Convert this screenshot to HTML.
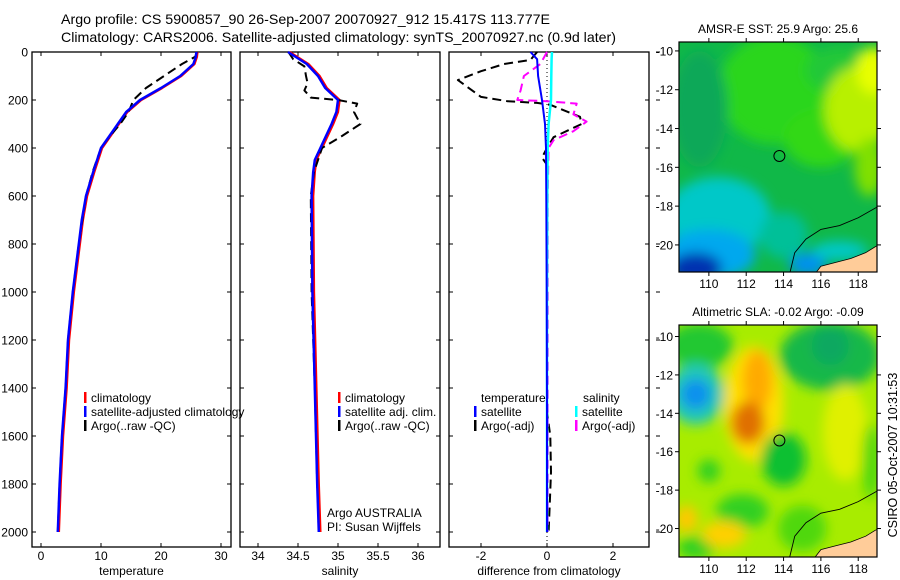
<!DOCTYPE html>
<html><head><meta charset="utf-8"><style>
html,body{margin:0;padding:0;background:#fff}
svg{display:block;font-family:"Liberation Sans",Arial,sans-serif}
</style></head><body>
<svg id="fig" width="900" height="580" viewBox="0 0 900 580" xmlns="http://www.w3.org/2000/svg">
<defs>
<filter id="blur" x="-20%" y="-20%" width="140%" height="140%"><feGaussianBlur stdDeviation="6"/></filter>
<clipPath id="clipTop"><rect x="679" y="42" width="198" height="230"/></clipPath>
<clipPath id="clipBot"><rect x="679" y="325" width="198" height="232"/></clipPath>
</defs>
<text x="61" y="24" font-size="14" textLength="489" lengthAdjust="spacingAndGlyphs">Argo profile: CS 5900857_90 26-Sep-2007 20070927_912 15.417S 113.777E</text>
<text x="61" y="42" font-size="14" textLength="555" lengthAdjust="spacingAndGlyphs">Climatology: CARS2006. Satellite-adjusted climatology: synTS_20070927.nc (0.9d later)</text>
<g id="panels"></g>
<g id="maps"></g>
<text transform="translate(897,455) rotate(-90)" font-size="12.5" text-anchor="middle">CSIRO 05-Oct-2007 10:31:53</text>
</svg>
<script>
// ---- data ----
const depthClim = [0,20,50,100,150,200,250,300,400,500,600,700,800,1000,1200,1400,1600,1800,2000];
const tempClim = [25.9,25.8,25.4,23.2,20.0,16.5,14.2,12.8,10.0,8.7,7.5,6.8,6.3,5.3,4.5,4.1,3.5,3.1,2.8];
const depthArgoT = [0,20,50,100,150,200,250,300,350,400,500,600,800,1000,1200,1400,1600,1800,2000];
const tempArgo = [26.0,25.7,23.5,20.5,17.5,15.4,14.6,13.2,11.5,10.0,8.6,7.5,6.3,5.3,4.5,4.1,3.5,3.1,2.8];
const depthSal = [0,50,100,150,200,250,300,400,450,500,600,1000,1400,1800,2000];
const salClim = [34.375,34.61,34.75,34.84,35.0,34.98,34.92,34.78,34.71,34.69,34.67,34.68,34.71,34.74,34.76];
const depthArgoS = [0,30,60,100,130,160,190,200,215,250,300,350,400,500,600,1000,1400,1800,2000];
const salArgo = [34.38,34.44,34.58,34.6,34.62,34.58,34.66,35.0,35.24,35.2,35.28,35.05,34.8,34.7,34.66,34.67,34.71,34.74,34.76];
const depthDiffSat = [0,30,100,200,300,400,600,1000,1500,2000];
const tDiffSat = [-0.5,-0.3,-0.27,-0.15,-0.06,-0.03,-0.02,-0.01,0,0];
const sDiffSat = [0.15,0.14,0.13,0.12,0.05,0.02,0.01,0.0,0.0,0.0];
const depthDiffArgoT = [0,33,50,80,117,187,205,212,220,270,300,355,400,440,470,500,1000,1500,1600,1750,1900,2000];
const tDiffArgo = [-0.3,-0.5,-1.3,-2.0,-2.7,-2.0,-1.2,-0.3,0.1,1.0,1.05,0.2,0.0,-0.15,0.0,0.0,0.0,0.0,0.1,0.12,0.08,0.05];
const depthDiffArgoS = [0,50,100,160,200,205,215,260,290,330,367,400,600,1000,2000];
const sDiffArgo = [0,-0.2,-0.7,-0.8,-0.9,0,0.9,0.8,1.2,0.8,0.2,0.05,0.02,0.02,0.02];
const depthTicks = [0,200,400,600,800,1000,1200,1400,1600,1800,2000];
const tempTicks = [0,10,20,30];
const salTicks = [34,34.5,35,35.5,36];
const diffTicks = [-2,0,2];
const lonTicks = [110,112,114,116,118];
const latTicks = [-10,-12,-14,-16,-18,-20];

const NS="http://www.w3.org/2000/svg";
function el(tag, attrs, parent, text){const e=document.createElementNS(NS,tag);for(const k in attrs)e.setAttribute(k,attrs[k]);if(text!==undefined)e.textContent=text;parent.appendChild(e);return e;}
const yD = d => 52 + d*0.24;
const P = document.getElementById('panels');

function panel(name,x0,x1,xScale,xTicks,xLabel,showDepth){
  const g=el('g',{},P);
  
  
  const r=el('rect',{x:x0,y:52,width:x1-x0,height:495,fill:'none',stroke:'#000','stroke-width':1.3},g);
  
  
  xTicks.forEach(t=>{const x=xScale(t);
    el('line',{x1:x,x2:x,y1:52,y2:56,stroke:'#000'},g);
    el('line',{x1:x,x2:x,y1:547,y2:543,stroke:'#000'},g);
    const tl=el('text',{x:x,y:560,'font-size':12,'text-anchor':'middle'},g,String(t));
    
    
  });
  depthTicks.forEach(d=>{const y=yD(d);
    el('line',{x1:x0,x2:x0+4,y1:y,y2:y,stroke:'#000'},g);
    el('line',{x1:x1,x2:x1-4,y1:y,y2:y,stroke:'#000'},g);
    if(showDepth){const tl=el('text',{x:28,y:y+4.5,'font-size':12,'text-anchor':'end'},g,String(d));
      
      }
  });
  const xl=el('text',{x:(x0+x1)/2,y:575,'font-size':12,'text-anchor':'middle'},g,xLabel);
  
  
  return g;
}
function line(g,xs,ds,xScale,color,dash,w,name){
  const pts=xs.map((v,i)=>xScale(v).toFixed(1)+','+yD(ds[i]).toFixed(1)).join(' ');
  const p=el('polyline',{points:pts,fill:'none',stroke:color,'stroke-width':w,'stroke-dasharray':dash||'none','stroke-linejoin':'round'},g);
  
  
}
function legend(g,x,y,color,label,name){
  el('rect',{x:x,y:y-10,width:2.5,height:11,fill:color},g);
  const t=el('text',{x:x+7,y:y,'font-size':12},g,label);
  
  
}
// temperature
const xT=t=>41+t*6;
let g=panel('temperature',32,231,xT,tempTicks,'temperature',true);
line(g,tempClim,depthClim,t=>xT(t)+1,'#f00','',2.5,'temp-climatology-line');
line(g,tempArgo,depthArgoT,xT,'#000','9,5',2,'temp-argo-line');
line(g,tempClim,depthClim,xT,'#00f','',2.5,'temp-satellite-line');
legend(g,84,402,'#f00','climatology','legend-climatology');
legend(g,84,416,'#00f','satellite-adjusted climatology','legend-satellite-adjusted');
legend(g,84,430,'#000','Argo(..raw -QC)','legend-argo-raw');
// salinity
const xS=s=>258+(s-34)*80;
g=panel('salinity',240,440,xS,salTicks,'salinity',false);
line(g,salClim,depthSal,s=>xS(s)+1.5,'#f00','',2.5,'sal-climatology-line');
line(g,salArgo,depthArgoS,xS,'#000','9,5',2,'sal-argo-line');
line(g,salClim,depthSal,xS,'#00f','',2.5,'sal-satellite-line');
legend(g,338,402,'#f00','climatology','legend-sal-climatology');
legend(g,338,416,'#00f','satellite adj. clim.','legend-sal-satellite');
legend(g,338,430,'#000','Argo(..raw -QC)','legend-sal-argo');
let t1=el('text',{x:327,y:517,'font-size':12},g,'Argo AUSTRALIA');


t1=el('text',{x:327,y:531,'font-size':12},g,'PI: Susan Wijffels');


// difference
const xDf=d=>547+d*33;
g=panel('difference',449,649,xDf,diffTicks,'difference from climatology',false);
el('line',{x1:547,x2:547,y1:52,y2:547,stroke:'#000','stroke-dasharray':'1,3'},g);
line(g,tDiffArgo,depthDiffArgoT,xDf,'#000','9,5',2,'diff-temp-argo-line');
line(g,sDiffArgo,depthDiffArgoS,xDf,'#f0f','9,5',2,'diff-sal-argo-line');
line(g,sDiffSat,depthDiffSat,xDf,'#0ff','',2.5,'diff-sal-satellite-line');
line(g,tDiffSat,depthDiffSat,xDf,'#00f','',2,'diff-temp-satellite-line');
t1=el('text',{x:481,y:402,'font-size':12},g,'temperature');


t1=el('text',{x:583,y:402,'font-size':12},g,'salinity');


legend(g,474,416,'#00f','satellite','legend-diff-temp-satellite');
legend(g,474,430,'#000','Argo(-adj)','legend-diff-temp-argo');
legend(g,575,416,'#0ff','satellite','legend-diff-sal-satellite');
legend(g,575,430,'#f0f','Argo(-adj)','legend-diff-sal-argo');
depthTicks.forEach(d=>el('line',{x1:656,x2:660,y1:yD(d),y2:yD(d),stroke:'#000'},g));

// ---- maps ----
const M=document.getElementById('maps');
const lonX=l=>679+(l-108.4)*18.67;
function makeMap(name,top,latTop,pxPerDeg,clip,base,blobs,title){
  const latY=l=>top+(latTop-l)*pxPerDeg;
  const mg=el('g',{},M);
  
  
  const c=el('g',{'clip-path':'url(#'+clip+')'},mg);
  el('rect',{x:679,y:top,width:198,height:240,fill:base},c);
  const bg=el('g',{filter:'url(#blur)'},c);
  blobs.forEach(b=>el('ellipse',{cx:lonX(b[0]),cy:latY(b[1]),rx:b[2]*18.67,ry:b[3]*pxPerDeg,fill:b[4]},bg));
  const land=[[115.6,-21.6],[116,-21.1],[116.8,-20.9],[117.6,-20.7],[118.4,-20.4],[118.9,-20.1],[119.1,-20.0],[119.1,-21.6]];
  const lp=el('polygon',{points:land.map(p=>lonX(p[0])+','+latY(p[1])).join(' '),fill:'#ffcc99',stroke:'#000','stroke-width':0.8},c);
  
  
  const coast=[[114.3,-21.6],[114.6,-20.4],[115.2,-19.7],[116,-19.2],[117,-19.0],[118,-18.6],[119.1,-18.0]];
  el('polyline',{points:coast.map(p=>lonX(p[0])+','+latY(p[1])).join(' '),fill:'none',stroke:'#000','stroke-width':0.9},c);
  const mk=el('circle',{cx:lonX(113.777),cy:latY(-15.417),r:5.5,fill:'none',stroke:'#000','stroke-width':1},mg);
  
  
  const h=(clip==='clipTop')?230:232;
  el('rect',{x:679,y:top,width:198,height:h,fill:'none',stroke:'#000','stroke-width':1.2},mg);
  lonTicks.forEach(l=>{const x=lonX(l);
    el('line',{x1:x,x2:x,y1:top-4,y2:top,stroke:'#000'},mg);
    el('line',{x1:x,x2:x,y1:top+h,y2:top+h+4,stroke:'#000'},mg);
    const t=el('text',{x:x,y:top+h+16,'font-size':12,'text-anchor':'middle'},mg,String(l));
    
    });
  latTicks.forEach(l=>{const y=latY(l);
    el('line',{x1:675,x2:679,y1:y,y2:y,stroke:'#000'},mg);
    el('line',{x1:877,x2:881,y1:y,y2:y,stroke:'#000'},mg);
    const t=el('text',{x:673,y:y+4.5,'font-size':12,'text-anchor':'end'},mg,String(l));
    
    });
  const tt=el('text',{x:778,y:top-9,'font-size':12,'text-anchor':'middle'},mg,title);
  
  
}
makeMap('sst-map',42,-9.54,19.4,'clipTop','#10b848',[
  [113.5,-12,3,2.8,'#2ad61c'],[116,-14.5,2,1.5,'#30d818'],[117,-11,1.8,1.2,'#20c838'],
  [118,-13,1.8,2.2,'#b8f000'],[118.8,-11,0.9,1.2,'#e8ff00'],[118.6,-16,0.8,1.5,'#80e000'],
  [109.5,-13,1.5,3,'#0aa858'],
  [110.5,-18.5,2.8,2,'#00c8c8'],[110,-20.5,2.5,1.3,'#00a8ee'],[109.3,-21.2,1.4,0.8,'#0030b0'],
  [115.3,-21,1,0.6,'#0090ee'],[114,-19.5,1.3,1.2,'#00c098'],[117,-20.3,1.5,0.5,'#00c8c8']
],'AMSR-E SST: 25.9 Argo: 25.6');
makeMap('sla-map',325,-9.4,19.2,'clipBot','#a8ec00',[
  [109.5,-10.5,1.8,1.2,'#22c830'],[116.5,-11,2.7,1.8,'#18b848'],[116.5,-10.5,1,1,'#10a860'],
  [109.3,-13,1.5,1.6,'#20c8b8'],[109.3,-13,0.8,0.8,'#1090ee'],
  [112.4,-13.5,1.6,3,'#ffe000'],[112.6,-12.3,0.8,1.6,'#ffaa00'],[112.1,-14.5,0.9,1.1,'#e07000'],
  [114,-16.4,1.2,1.4,'#10c030'],[111.8,-19.1,1.4,0.9,'#30d020'],[110,-17,0.6,0.6,'#30d020'],
  [109.3,-21,1,0.6,'#30d020'],[117.3,-15,1.2,2.5,'#e0f000'],[118.7,-16.5,0.5,2,'#50d810'],
  [110.8,-20.3,1.2,0.7,'#ffd000'],[108.8,-19.5,0.6,0.7,'#ffc800'],[115,-20,1.3,1.2,'#50d810']
],'Altimetric SLA: -0.02 Argo: -0.09');
</script>
</body></html>
